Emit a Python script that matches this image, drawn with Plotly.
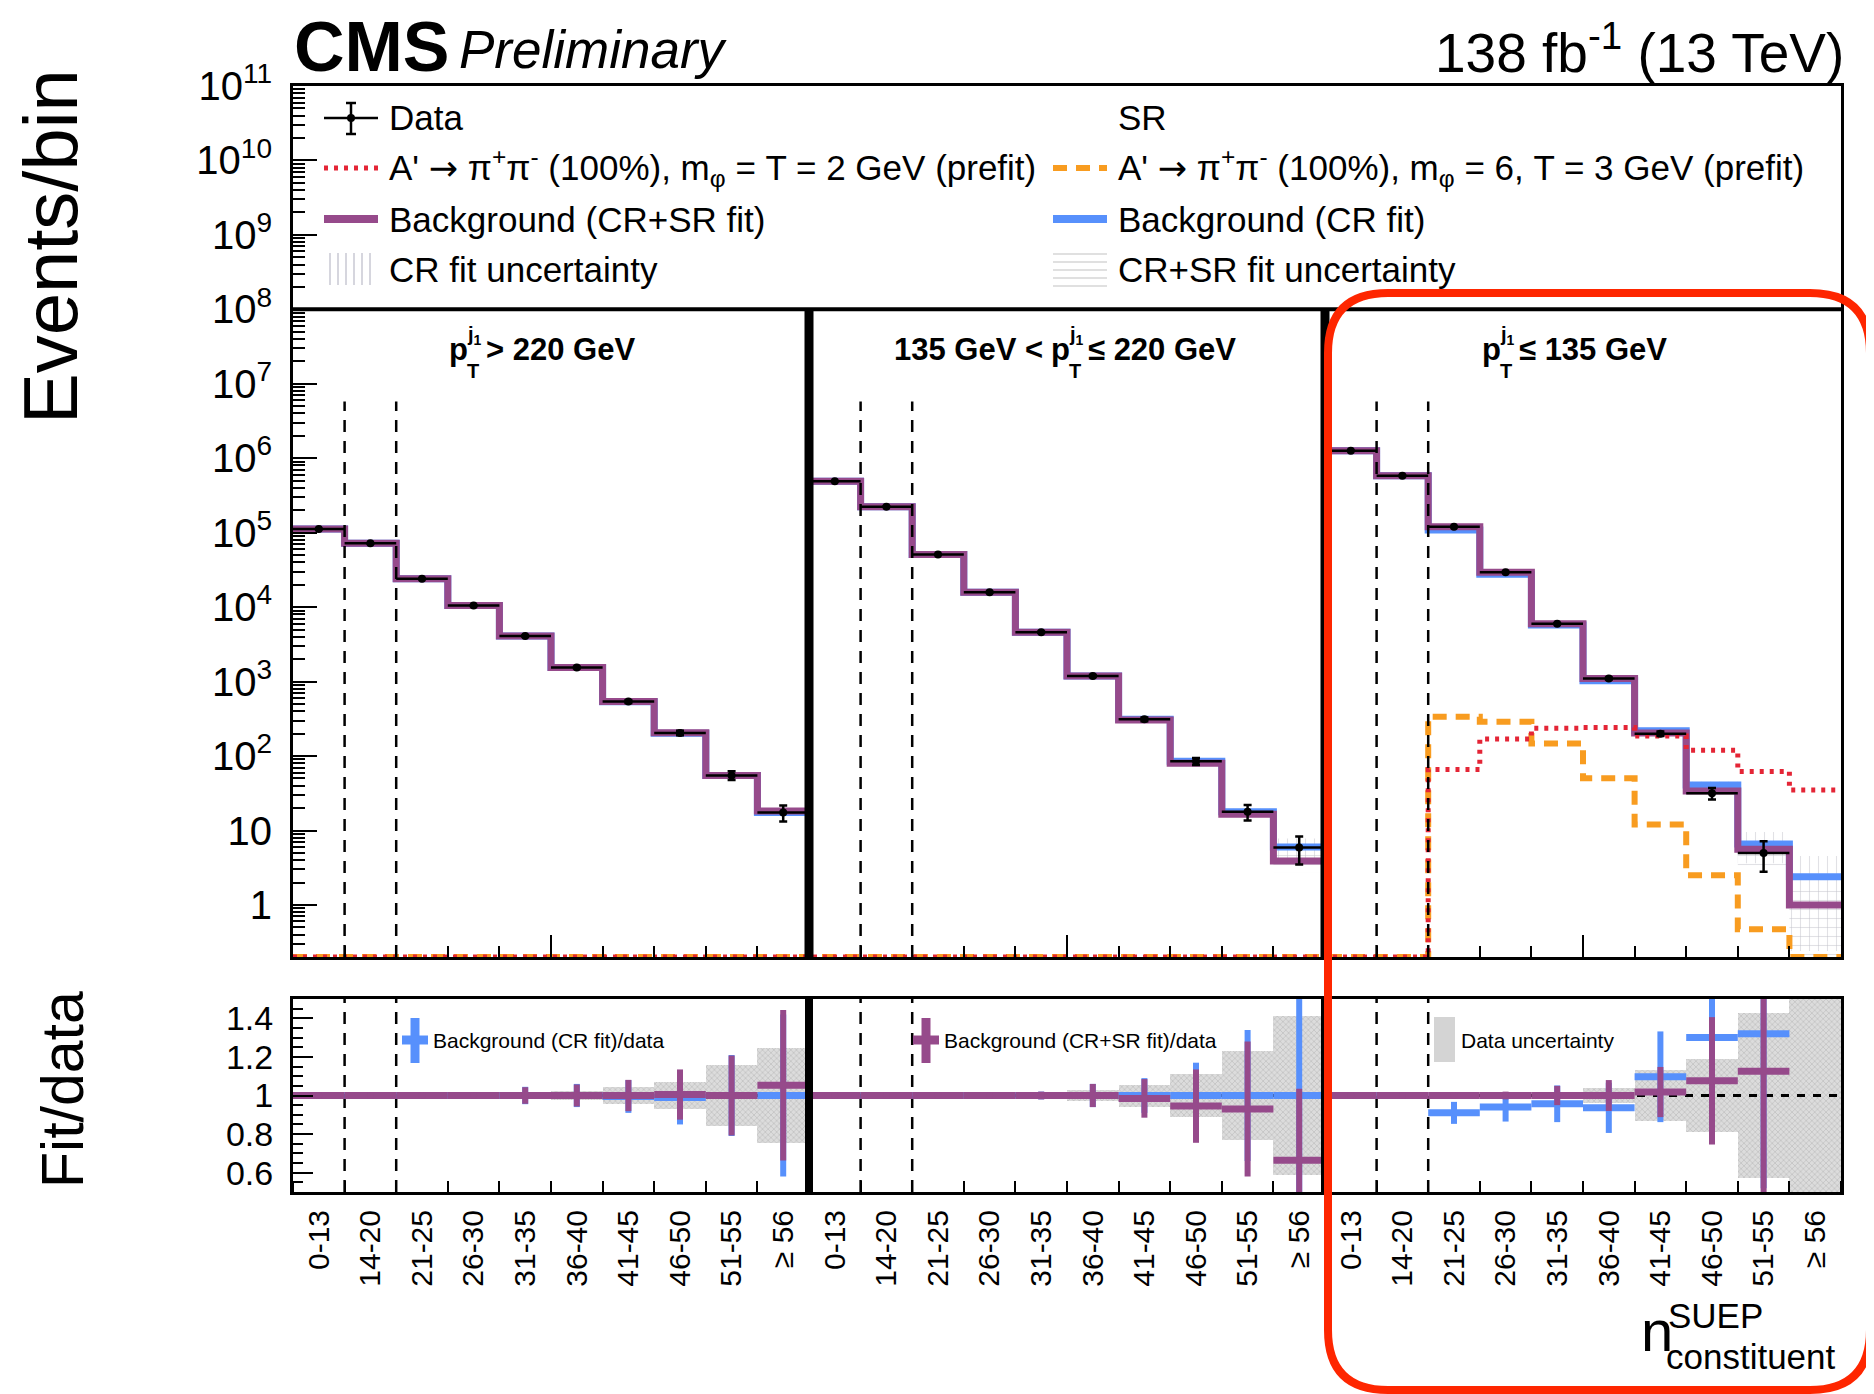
import plotly.graph_objects as go

W, H = 1874, 1394
FONT = "Liberation Sans, Arial, Helvetica, sans-serif"

# ---------------- data ----------------
bin_labels = ["0-13", "14-20", "21-25", "26-30", "31-35", "36-40",
              "41-45", "46-50", "51-55", "≥ 56"]

# events per bin in the three leading-jet pT regions (high, mid, low)
data_high = [1.12e5, 7.2e4, 2.4e4, 1.05e4, 4.1e3, 1.55e3, 540, 204, 55, 17.4]
data_mid = [4.9e5, 2.24e5, 5.1e4, 1.58e4, 4.6e3, 1.19e3, 311, 85, 17.8, 5.9]
data_low = [1.26e6, 5.8e5, 1.2e5, 2.95e4, 6.0e3, 1.10e3, 200, 31.6, 5.0, None]
data_err_high = [335, 268, 155, 102, 64, 39, 23, 14, 7.4, 4.2]
data_err_mid = [700, 473, 226, 126, 68, 34, 17.6, 9.2, 4.2, 2.4]
data_err_low = [1120, 760, 346, 172, 77, 33, 14, 5.6, 2.2, 0]

bkg_crsr_high = [1.12e5, 7.2e4, 2.4e4, 1.05e4, 4.1e3, 1.55e3, 540, 205, 55, 18.3]
bkg_crsr_mid = [4.9e5, 2.24e5, 5.1e4, 1.58e4, 4.6e3, 1.19e3, 306, 80, 16.5, 3.9]
bkg_crsr_low = [1.26e6, 5.8e5, 1.2e5, 2.95e4, 6.0e3, 1.10e3, 204, 34, 5.6, 1.0]

bkg_cr_high = [1.12e5, 7.2e4, 2.4e4, 1.05e4, 4.1e3, 1.55e3, 538, 202, 55, 17.4]
bkg_cr_mid = [4.9e5, 2.24e5, 5.1e4, 1.58e4, 4.6e3, 1.19e3, 311, 85, 17.8, 6.0]
bkg_cr_low = [1.26e6, 5.8e5, 1.09e5, 2.77e4, 5.75e3, 1.03e3, 219, 41, 6.6, 2.4]

# relative fit uncertainties
cr_unc_high = [0.003, 0.003, 0.004, 0.005, 0.006, 0.01, 0.015, 0.02, 0.04, 0.08]
cr_unc_mid = [0.003, 0.003, 0.004, 0.005, 0.008, 0.012, 0.02, 0.04, 0.1, 0.3]
cr_unc_low = [0.003, 0.003, 0.005, 0.008, 0.012, 0.02, 0.04, 0.1, 0.45, 0.9]
crsr_unc_high = [0.003, 0.003, 0.004, 0.005, 0.006, 0.01, 0.015, 0.02, 0.04, 0.08]
crsr_unc_mid = [0.003, 0.003, 0.004, 0.005, 0.008, 0.012, 0.02, 0.04, 0.1, 0.3]
crsr_unc_low = [0.003, 0.003, 0.005, 0.008, 0.012, 0.02, 0.04, 0.1, 0.4, 0.8]

# signals (prefit); zero outside the signal region
sig_t2_high = [0] * 10
sig_t2_mid = [0] * 10
sig_t2_low = [0, 0, 66, 169, 236, 241, 186, 120, 62, 35]
sig_m6t3_high = [0] * 10
sig_m6t3_mid = [0] * 10
sig_m6t3_low = [0, 0, 338, 288, 148, 50.5, 12.0, 2.5, 0.47, 0]

# ratio panel: fit / data
ratio_cr_high = [1, 1, 1, 1, 1, 1, 0.995, 0.99, 1.0, 1.0]
ratio_cr_mid = [1, 1, 1, 1, 1, 1, 1.0, 1.0, 1.0, 1.0]
ratio_cr_low = [1, 1, 0.91, 0.94, 0.957, 0.936, 1.097, 1.30, 1.32, None]
ratio_cr_err_high = [0.004, 0.005, 0.008, 0.012, 0.045, 0.06, 0.085, 0.14, 0.21, 0.42]
ratio_cr_err_mid = [0.004, 0.005, 0.008, 0.012, 0.02, 0.06, 0.09, 0.17, 0.34, 0.6]
ratio_cr_err_low = [0.004, 0.005, 0.057, 0.075, 0.095, 0.13, 0.235, 0.5, 0.8, 0]

ratio_crsr_high = [1, 1, 1, 1, 1, 1, 1.0, 1.005, 1.0, 1.053]
ratio_crsr_mid = [1, 1, 1, 1, 1, 1, 0.985, 0.945, 0.93, 0.665]
ratio_crsr_low = [1, 1, 1, 1, 1, 1, 1.018, 1.076, 1.125, None]
ratio_crsr_err_high = [0.004, 0.005, 0.008, 0.012, 0.043, 0.057, 0.081, 0.13, 0.207, 0.39]
ratio_crsr_err_mid = [0.004, 0.005, 0.008, 0.012, 0.02, 0.06, 0.10, 0.19, 0.35, 0.37]
ratio_crsr_err_low = [0.004, 0.005, 0.01, 0.02, 0.05, 0.08, 0.13, 0.33, 0.7, 0]

data_unc_high = [0.003, 0.004, 0.007, 0.01, 0.016, 0.025, 0.043, 0.07, 0.16, 0.245]
data_unc_mid = [0.002, 0.003, 0.005, 0.008, 0.015, 0.03, 0.057, 0.11, 0.23, 0.41]
data_unc_low = [0.001, 0.002, 0.004, 0.008, 0.017, 0.04, 0.13, 0.19, 0.43, 1.0]

panel_left_text = ["", "135 GeV <", ""]
panel_right_text = ["> 220 GeV", "≤ 220 GeV", "≤ 135 GeV"]
dashed_edges = [1, 2, 11, 12, 21, 22]
panel_edges = [10, 20]

# ---------------- style ----------------
BLUE = "#5790fc"
ORANGE = "#f89c20"
RED = "#e42536"
PURPLE = "#964a8b"
Y_LOG_MIN, Y_LOG_MAX = -0.699, 11.0
y_floor = 10 ** Y_LOG_MIN
dashed_top = 5.8e6
legend_sep = 1e8
OFF = 8  # page body margin of the browser, compensated here


def cat(*lists):
    out = []
    for l in lists:
        out += list(l)
    return out


data = cat(data_high, data_mid, data_low)
data_err = cat(data_err_high, data_err_mid, data_err_low)
bkg_crsr = cat(bkg_crsr_high, bkg_crsr_mid, bkg_crsr_low)
bkg_cr = cat(bkg_cr_high, bkg_cr_mid, bkg_cr_low)
cr_unc = cat(cr_unc_high, cr_unc_mid, cr_unc_low)
crsr_unc = cat(crsr_unc_high, crsr_unc_mid, crsr_unc_low)
sig_t2 = cat(sig_t2_high, sig_t2_mid, sig_t2_low)
sig_m6t3 = cat(sig_m6t3_high, sig_m6t3_mid, sig_m6t3_low)
r_cr = cat(ratio_cr_high, ratio_cr_mid, ratio_cr_low)
r_cr_err = cat(ratio_cr_err_high, ratio_cr_err_mid, ratio_cr_err_low)
r_crsr = cat(ratio_crsr_high, ratio_crsr_mid, ratio_crsr_low)
r_crsr_err = cat(ratio_crsr_err_high, ratio_crsr_err_mid, ratio_crsr_err_low)
d_unc = cat(data_unc_high, data_unc_mid, data_unc_low)

NB = len(data)
edges = list(range(NB + 1))
centers = [i + 0.5 for i in range(NB)]
labels = bin_labels * 3


def step_y(vals):
    v = [x if (x is not None and x > 0) else y_floor for x in vals]
    return v + [v[-1]]


def X(px):
    return (px - OFF) / W


def Y(py):
    return 1 - (py - OFF) / H


fig = go.Figure()

# ---------- main panel ----------
for vals, rel, shape in [(bkg_cr, cr_unc, "|"), (bkg_crsr, crsr_unc, "-")]:
    up = [v * (1 + r) for v, r in zip(vals, rel)]
    lo = [max(v * (1 - r), y_floor) for v, r in zip(vals, rel)]
    fig.add_trace(go.Scatter(x=edges, y=step_y(up), mode="lines", line_shape="hv",
                             line=dict(width=0, color="rgba(0,0,0,0)"),
                             showlegend=False, hoverinfo="skip"))
    fig.add_trace(go.Scatter(x=edges, y=step_y(lo), mode="lines", line_shape="hv",
                             line=dict(width=0, color="rgba(0,0,0,0)"), fill="tonexty",
                             fillcolor="rgba(0,0,0,0)",
                             fillpattern=dict(shape=shape, fgcolor="#c4c4cc", size=9,
                                              solidity=0.12, bgcolor="rgba(0,0,0,0)"),
                             showlegend=False, hoverinfo="skip"))

fig.add_trace(go.Scatter(x=edges, y=step_y(bkg_cr), mode="lines", line_shape="hv",
                         line=dict(color=BLUE, width=7), showlegend=False))
fig.add_trace(go.Scatter(x=edges, y=step_y(bkg_crsr), mode="lines", line_shape="hv",
                         line=dict(color=PURPLE, width=7), showlegend=False))
fig.add_trace(go.Scatter(x=edges, y=step_y(sig_m6t3), mode="lines", line_shape="hv",
                         line=dict(color=ORANGE, width=6, dash="14px,9px"), showlegend=False))
fig.add_trace(go.Scatter(x=edges, y=step_y(sig_t2), mode="lines", line_shape="hv",
                         line=dict(color=RED, width=5, dash="4px,6px"), showlegend=False))

# dashed region lines and panel separators
dx, dy = [], []
for e in dashed_edges:
    dx += [e, e, None]
    dy += [y_floor, dashed_top, None]
fig.add_trace(go.Scatter(x=dx, y=dy, mode="lines",
                         line=dict(color="black", width=2.5, dash="12px,9px"),
                         showlegend=False, hoverinfo="skip"))
sx, sy = [], []
for e in panel_edges:
    sx += [e, e, None]
    sy += [y_floor, legend_sep, None]
fig.add_trace(go.Scatter(x=sx, y=sy, mode="lines", line=dict(color="black", width=9),
                         showlegend=False, hoverinfo="skip"))
fig.add_trace(go.Scatter(x=[edges[0], edges[-1]], y=[legend_sep, legend_sep], mode="lines",
                         line=dict(color="black", width=4), showlegend=False, hoverinfo="skip"))

fig.add_trace(go.Scatter(x=centers, y=data, mode="markers",
                         marker=dict(color="black", size=8),
                         error_x=dict(type="constant", value=0.5, thickness=2.5, width=0,
                                      color="black"),
                         error_y=dict(type="data", array=data_err, thickness=2.5, width=4,
                                      color="black"),
                         showlegend=False))

# ---------- ratio panel ----------
fig.add_trace(go.Bar(x=centers, y=[2 * u for u in d_unc], base=[1 - u for u in d_unc],
                     width=1.0, xaxis="x2", yaxis="y2",
                     marker=dict(color="#dcdcdc", line_width=0,
                                 pattern=dict(shape="x", fgcolor="#a8a8a8", size=4,
                                              solidity=0.35)),
                     showlegend=False, hoverinfo="skip"))
rdx, rdy = [], []
for e in dashed_edges:
    rdx += [e, e, None]
    rdy += [0.5, 1.5, None]
fig.add_trace(go.Scatter(x=rdx, y=rdy, mode="lines", xaxis="x2", yaxis="y2",
                         line=dict(color="black", width=2.5, dash="12px,9px"),
                         showlegend=False, hoverinfo="skip"))
fig.add_trace(go.Scatter(x=[edges[0], edges[-1]], y=[1, 1], mode="lines", xaxis="x2", yaxis="y2",
                         line=dict(color="black", width=3, dash="8px,8px"),
                         showlegend=False, hoverinfo="skip"))
for vals, errs, col in [(r_cr, r_cr_err, BLUE), (r_crsr, r_crsr_err, PURPLE)]:
    fig.add_trace(go.Scatter(x=centers, y=vals, mode="markers", xaxis="x2", yaxis="y2",
                             marker=dict(color=col, size=7),
                             error_x=dict(type="constant", value=0.5, thickness=7, width=0,
                                          color=col),
                             error_y=dict(type="data", array=errs, thickness=6, width=0,
                                          color=col),
                             showlegend=False))
rsx, rsy = [], []
for e in panel_edges:
    rsx += [e, e, None]
    rsy += [0.5, 1.5, None]
fig.add_trace(go.Scatter(x=rsx, y=rsy, mode="lines", xaxis="x2", yaxis="y2",
                         line=dict(color="black", width=8), showlegend=False, hoverinfo="skip"))

# ---------- axes ----------
x_dom = [X(293), X(1841)]
main_minor = [k * 10 ** d for d in range(-1, 11) for k in range(2, 10)]
fig.update_layout(
    width=W, height=H, margin=dict(l=0, r=0, t=0, b=0, pad=0, autoexpand=False),
    autosize=False,
    paper_bgcolor="white", plot_bgcolor="white",
    font=dict(family=FONT, color="black"),
    showlegend=False, bargap=0,
    xaxis=dict(domain=x_dom, range=[0, NB], anchor="y", showgrid=False, zeroline=False,
               automargin=False,
               showline=True, linecolor="black", linewidth=3, mirror=True,
               tickmode="array", tickvals=[5, 15, 25], ticks="inside", ticklen=22,
               tickwidth=2, tickcolor="black", showticklabels=False,
               minor=dict(dtick=1, tick0=0, ticks="inside", ticklen=11, tickwidth=2,
                          tickcolor="black", showgrid=False)),
    yaxis=dict(domain=[Y(957), Y(86)], type="log", range=[Y_LOG_MIN, Y_LOG_MAX],
               anchor="x", showgrid=False, zeroline=False, showline=True, automargin=False,
               linecolor="black", linewidth=3, mirror=True,
               tickmode="array", tickvals=[10 ** d for d in range(0, 12)],
               ticktext=["1", "10"] + ["10<sup>%d</sup>" % d for d in range(2, 12)],
               ticks="inside", ticklen=24, tickwidth=2, tickcolor="black",
               ticklabelstandoff=10, tickfont=dict(size=40, family=FONT),
               minor=dict(tickmode="array", tickvals=main_minor, ticks="inside",
                          ticklen=12, tickwidth=1.5, tickcolor="black", showgrid=False)),
    xaxis2=dict(domain=x_dom, range=[0, NB], anchor="y2", showgrid=False, zeroline=False,
                automargin=False,
                showline=True, linecolor="black", linewidth=3, mirror=True,
                tickmode="array", tickvals=centers, ticktext=labels, ticks="",
                tickangle=-90, ticklabelstandoff=3, tickfont=dict(size=30, family=FONT),
                minor=dict(dtick=1, tick0=0, ticks="inside", ticklen=11, tickwidth=2,
                           tickcolor="black", showgrid=False)),
    yaxis2=dict(domain=[Y(1192), Y(999)], range=[0.5, 1.5], anchor="x2", showgrid=False,
                automargin=False,
                zeroline=False, showline=True, linecolor="black", linewidth=3, mirror=True,
                tickmode="array", tickvals=[0.6, 0.8, 1.0, 1.2, 1.4],
                ticktext=["0.6", "0.8", "1", "1.2", "1.4"], ticks="inside", ticklen=20,
                tickwidth=2, tickcolor="black", ticklabelstandoff=10,
                tickfont=dict(size=34, family=FONT),
                minor=dict(dtick=0.05, tick0=0.5, ticks="inside", ticklen=10, tickwidth=1.5,
                           tickcolor="black", showgrid=False)),
)

ann = []
shapes = []


def text(px, py, s, size, xanchor="left", yanchor="middle", angle=0):
    ann.append(dict(x=X(px), y=Y(py), xref="paper", yref="paper", text=s, showarrow=False,
                    xanchor=xanchor, yanchor=yanchor, textangle=angle, borderpad=0,
                    font=dict(size=size, family=FONT, color="black")))


def line(x0, y0, x1, y1, color="black", width=2, dash=None):
    d = dict(color=color, width=width)
    if dash:
        d["dash"] = dash
    shapes.append(dict(type="line", xref="paper", yref="paper", x0=X(x0), y0=Y(y0),
                       x1=X(x1), y1=Y(y1), line=d, layer="above"))


# header
text(293, 47, "<b>CMS</b>", 70)
text(458, 49, "<i>Preliminary</i>", 53)
text(1845, 49, "138 fb<sup>-1</sup> (13 TeV)", 55, xanchor="right")

# axis titles
text(51, 247, "Events/bin", 76, xanchor="center", angle=-90)
text(63, 1090, "Fit/data", 59, xanchor="center", angle=-90)
text(1640, 1330, "n", 58)
text(1667, 1315, "SUEP", 35)
text(1665, 1356, "constituent", 35)

# panel titles
p_left = [448, 1050, 1481]
for i in range(3):
    xp = p_left[i]
    if panel_left_text[i]:
        text(xp - 6, 349, "<b>%s</b>" % panel_left_text[i], 31, xanchor="right")
    text(xp, 349, "<b>p</b>", 31)
    text(xp + 18, 335, "<b>j<sub>1</sub></b>", 20)
    text(xp + 18, 371, "<b>T</b>", 20)
    text(xp + 37, 349, "<b>%s</b>" % panel_right_text[i], 31)

# main legend
c1s, c1t, c2s, c2t = 324, 388, 1053, 1117
rows = [118, 168, 219, 269]
line(c1s, rows[0], c1s + 54, rows[0], width=2.5)
line(c1s + 27, rows[0] - 15, c1s + 27, rows[0] + 16, width=2.5)
line(c1s + 22, rows[0] - 15, c1s + 32, rows[0] - 15, width=2.5)
line(c1s + 22, rows[0] + 16, c1s + 32, rows[0] + 16, width=2.5)
shapes.append(dict(type="circle", xref="paper", yref="paper", x0=X(c1s + 23), x1=X(c1s + 31),
                   y0=Y(rows[0] - 4), y1=Y(rows[0] + 4), fillcolor="black",
                   line=dict(width=0), layer="above"))
line(c1s, rows[1], c1s + 54, rows[1], color=RED, width=5, dash="4px,6px")
line(c1s, rows[2], c1s + 54, rows[2], color=PURPLE, width=8)
for k in range(6):
    line(c1s + 6 + 8 * k, rows[3] - 16, c1s + 6 + 8 * k, rows[3] + 16, color="#d6d6de", width=2)
line(c2s, rows[1], c2s + 54, rows[1], color=ORANGE, width=6, dash="14px,9px")
line(c2s, rows[2], c2s + 54, rows[2], color=BLUE, width=8)
for k in range(5):
    line(c2s, rows[3] - 15 + 8 * k, c2s + 54, rows[3] - 15 + 8 * k, color="#e0e0e0", width=2)

ARROW = " <span style='font-family:DejaVu Sans'>→</span> "
LEG = 35
text(c1t, rows[0], "Data", LEG)
text(c2t, rows[0], "SR", LEG)
text(c1t, rows[1], "A'" + ARROW + "π<sup>+</sup>π<sup>-</sup> (100%), m<sub>φ</sub> = T = 2 GeV (prefit)", LEG)
text(c2t, rows[1], "A'" + ARROW + "π<sup>+</sup>π<sup>-</sup> (100%), m<sub>φ</sub> = 6, T = 3 GeV (prefit)", LEG)
text(c1t, rows[2], "Background (CR+SR fit)", LEG)
text(c2t, rows[2], "Background (CR fit)", LEG)
text(c1t, rows[3], "CR fit uncertainty", LEG)
text(c2t, rows[3], "CR+SR fit uncertainty", LEG)

# ratio legend
for cx, col, label in [(415, BLUE, "Background (CR fit)/data"),
                       (926, PURPLE, "Background (CR+SR fit)/data")]:
    line(cx, 1018, cx, 1063, color=col, width=9)
    line(cx - 13, 1040, cx + 13, 1040, color=col, width=9)
    text(cx + 17, 1040, label, 21)
shapes.append(dict(type="rect", xref="paper", yref="paper", x0=X(1434), x1=X(1455),
                   y0=Y(1062), y1=Y(1017), fillcolor="#d4d4d4", line=dict(width=0),
                   layer="above"))
text(1460, 1040, "Data uncertainty", 21)

# red highlight box (rounded rectangle)
x0, y0, x1, y1, r = 1328, 293, 1870, 1390, 60
rx, ry = r / W, r / H
pts = (f"M {X(x0) + rx},{Y(y0)} L {X(x1) - rx},{Y(y0)} Q {X(x1)},{Y(y0)} {X(x1)},{Y(y0) - ry} "
       f"L {X(x1)},{Y(y1) + ry} Q {X(x1)},{Y(y1)} {X(x1) - rx},{Y(y1)} "
       f"L {X(x0) + rx},{Y(y1)} Q {X(x0)},{Y(y1)} {X(x0)},{Y(y1) + ry} "
       f"L {X(x0)},{Y(y0) - ry} Q {X(x0)},{Y(y0)} {X(x0) + rx},{Y(y0)} Z")
shapes.append(dict(type="path", xref="paper", yref="paper", path=pts,
                   line=dict(color="#fe2600", width=8), layer="above"))

fig.update_layout(annotations=ann, shapes=shapes)
fig.write_html("out.html")
